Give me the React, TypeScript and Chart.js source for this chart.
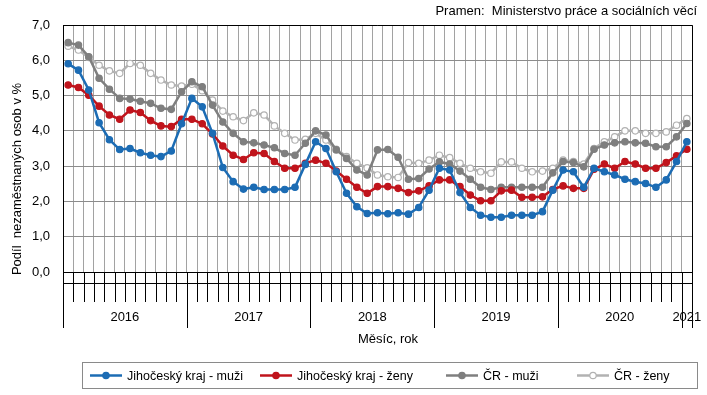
import React, { useEffect, useRef } from 'react';
import { Chart, registerables } from 'chart.js';

Chart.register(...registerables);

const FONT = '"Liberation Sans", Arial, sans-serif';

// ---- data ----
const years = ['2016', '2017', '2018', '2019', '2020', '2021'];
const monthNames = ['leden', 'únor', 'březen', 'duben', 'květen', 'červen', 'červenec', 'srpen', 'září', 'říjen', 'listopad', 'prosinec'];
const categories: string[] = [];
years.forEach((y) => {
  monthNames.forEach((m) => {
    if (y !== '2021' || m === 'leden') categories.push(`${m} ${y}`);
  });
});

const seriesNames = ['Jihočeský kraj - muži', 'Jihočeský kraj - ženy', 'ČR - muži', 'ČR - ženy'];

const jcMuzi = [
  5.9, 5.72, 5.16, 4.23, 3.75, 3.47, 3.5, 3.38, 3.31, 3.27, 3.43, 4.2,
  4.92, 4.68, 3.93, 2.96, 2.56, 2.35, 2.4, 2.34, 2.34, 2.34, 2.4, 3.05,
  3.69, 3.5, 2.84, 2.23, 1.85, 1.66, 1.68, 1.65, 1.68, 1.64, 1.83, 2.32,
  2.94, 2.89, 2.25, 1.83, 1.61, 1.55, 1.55, 1.61, 1.61, 1.61, 1.71, 2.32,
  2.89, 2.84, 2.4, 2.94, 2.84, 2.75, 2.63, 2.56, 2.51, 2.4, 2.61, 3.13,
  3.69,
];
const jcZeny = [
  5.3, 5.23, 5.01, 4.7, 4.45, 4.33, 4.59, 4.52, 4.29, 4.14, 4.12, 4.33,
  4.33, 4.2, 3.91, 3.57, 3.31, 3.19, 3.38, 3.36, 3.13, 2.94, 2.94, 3.08,
  3.17, 3.08, 2.86, 2.63, 2.4, 2.23, 2.42, 2.42, 2.37, 2.25, 2.3, 2.44,
  2.61, 2.61, 2.42, 2.18, 2.02, 2.02, 2.3, 2.32, 2.12, 2.12, 2.13, 2.34,
  2.44, 2.37, 2.37, 2.91, 3.06, 2.94, 3.13, 3.06, 2.94, 2.94, 3.1, 3.29,
  3.48,
];
const crMuzi = [
  6.5, 6.43, 6.1, 5.49, 5.18, 4.92, 4.9, 4.84, 4.78, 4.64, 4.61, 5.11,
  5.39, 5.25, 4.73, 4.25, 3.93, 3.69, 3.66, 3.6, 3.52, 3.36, 3.31, 3.65,
  4.0, 3.88, 3.46, 3.22, 2.89, 2.75, 3.46, 3.47, 3.25, 2.63, 2.65, 2.92,
  3.12, 3.06, 2.86, 2.63, 2.4, 2.34, 2.4, 2.4, 2.4, 2.4, 2.4, 2.81,
  3.13, 3.1, 2.98, 3.48, 3.6, 3.66, 3.69, 3.66, 3.65, 3.55, 3.55, 3.83,
  4.21,
];
const crZeny = [
  6.4, 6.29, 6.08, 5.86, 5.7, 5.63, 5.91, 5.86, 5.63, 5.44, 5.3, 5.27,
  5.32, 5.14, 4.87, 4.56, 4.4, 4.29, 4.51, 4.45, 4.14, 3.93, 3.74, 3.76,
  3.93, 3.74, 3.48, 3.27, 3.08, 2.95, 2.75, 2.7, 2.68, 3.1, 3.08, 3.17,
  3.31, 3.24, 3.08, 2.94, 2.84, 2.8, 3.12, 3.12, 2.94, 2.84, 2.86, 2.94,
  3.17, 3.13, 3.06, 3.5, 3.69, 3.83, 4.0, 4.0, 3.93, 3.93, 3.97, 4.16,
  4.35,
];

const yTicks = [0, 1, 2, 3, 4, 5, 6, 7];
const sourceText = 'Pramen:  Ministerstvo práce a sociálních věcí';
const yTitle = 'Podíl  nezaměstnaných osob v %';
const xTitle = 'Měsíc, rok';

const colors = ['#1c6cb4', '#c0141c', '#7f7f7f', '#b2b2b2'];
const pointFills = ['#1c6cb4', '#c0141c', '#7f7f7f', '#ffffff'];

const decorPlugin = {
  id: 'decor',
  afterDraw(chart: any) {
    const { ctx } = chart;
    const { left, right, top, bottom } = chart.chartArea;
    const xs = chart.scales.x;
    const n = categories.length;
    const w = (right - left) / n;
    const bnd = (i: number) => (i < n ? xs.getPixelForValue(i) - w / 2 : right);
    ctx.save();
    ctx.strokeStyle = '#000';
    ctx.lineWidth = 1;
    // frame top / right
    ctx.beginPath();
    ctx.moveTo(left, Math.round(top) + 0.5);
    ctx.lineTo(Math.round(right) + 0.5, Math.round(top) + 0.5);
    ctx.lineTo(Math.round(right) + 0.5, bottom);
    ctx.stroke();
    // axis tick zone
    ctx.beginPath();
    for (let i = 0; i <= n; i++) {
      const xb = Math.round(bnd(i)) + 0.5;
      const isYear = i % 12 === 0 || i === n;
      ctx.moveTo(xb, bottom);
      ctx.lineTo(xb, bottom + (isYear ? 56 : 30));
    }
    ctx.moveTo(left, Math.round(bottom + 11) + 0.5);
    ctx.lineTo(right, Math.round(bottom + 11) + 0.5);
    ctx.stroke();
    // year labels
    ctx.fillStyle = '#000';
    ctx.font = `13px ${FONT}`;
    ctx.textAlign = 'center';
    ctx.textBaseline = 'middle';
    years.forEach((y, k) => {
      const s = k * 12;
      const e = Math.min(s + 12, n);
      const cx = (bnd(s) + bnd(e)) / 2;
      ctx.fillText(y, cx, bottom + 45);
    });
    // x title
    ctx.fillText(xTitle, 388, 339);
    // source
    ctx.font = `13px ${FONT}`;
    ctx.textAlign = 'right';
    ctx.fillText(sourceText, 697, 11);
    // y title
    ctx.save();
    ctx.translate(17, 179);
    ctx.rotate(-Math.PI / 2);
    ctx.textAlign = 'center';
    ctx.font = `13px ${FONT}`;
    ctx.fillText(yTitle, 0, 0);
    ctx.restore();
    // legend
    ctx.strokeStyle = '#8a8a8a';
    ctx.lineWidth = 1;
    ctx.strokeRect(82.5, 362.5, 615, 26);
    const lxs = [90, 260, 446, 577];
    ctx.font = `12.5px ${FONT}`;
    ctx.textAlign = 'left';
    chart.data.datasets.forEach((ds: any, k: number) => {
      const lx = lxs[k];
      const ly = 375.5;
      ctx.strokeStyle = ds.borderColor;
      ctx.lineWidth = 2.5;
      ctx.beginPath();
      ctx.moveTo(lx, ly);
      ctx.lineTo(lx + 32, ly);
      ctx.stroke();
      ctx.beginPath();
      ctx.arc(lx + 16, ly, 3.2, 0, Math.PI * 2);
      ctx.fillStyle = ds.pointBackgroundColor;
      ctx.fill();
      ctx.lineWidth = 1.2;
      ctx.stroke();
      ctx.fillStyle = '#000';
      ctx.fillText(ds.label, lx + 37, ly + 1);
    });
    ctx.restore();
  },
};

export default function App() {
  const ref = useRef<HTMLCanvasElement>(null);
  useEffect(() => {
    if (!ref.current) return;
    const all = [jcMuzi, jcZeny, crMuzi, crZeny];
    const chart = new Chart(ref.current, {
      type: 'line',
      data: {
        labels: categories,
        datasets: all.map((d, k) => ({
          label: seriesNames[k],
          data: d,
          borderColor: colors[k],
          backgroundColor: colors[k],
          pointBackgroundColor: pointFills[k],
          pointBorderColor: colors[k],
          pointBorderWidth: 1.2,
          pointRadius: 3.2,
          borderWidth: 2.5,
          tension: 0,
        })),
      },
      options: {
        animation: false,
        responsive: false,
        devicePixelRatio: 1,
        events: [],
        layout: { padding: { left: 0, top: 25, right: 15, bottom: 123 } },
        plugins: { legend: { display: false }, tooltip: { enabled: false }, title: { display: false } },
        scales: {
          x: {
            type: 'category',
            offset: true,
            grid: { offset: true, color: '#a2a2a2', lineWidth: 1, drawTicks: false },
            border: { color: '#000', width: 1 },
            ticks: { display: false },
            afterFit: (s: any) => { s.height = 0; },
          },
          y: {
            min: 0,
            max: 7,
            afterBuildTicks: (s: any) => { s.ticks = yTicks.map((v) => ({ value: v })); },
            grid: { color: '#8c8c8c', lineWidth: 1, drawTicks: false },
            border: { color: '#000', width: 1 },
            ticks: {
              color: '#000',
              padding: 13,
              font: { family: FONT, size: 13 },
              callback: (v: any) => Number(v).toFixed(1).replace('.', ','),
            },
            afterFit: (s: any) => { s.width = 63; },
          },
        },
      },
      plugins: [decorPlugin],
    } as any);
    return () => chart.destroy();
  }, []);
  return (
    <div style={{ position: 'fixed', left: 0, top: 0, width: 707, height: 395, background: '#fff' }}>
      <canvas ref={ref} width={707} height={395} style={{ width: 707, height: 395, display: 'block' }} />
    </div>
  );
}
